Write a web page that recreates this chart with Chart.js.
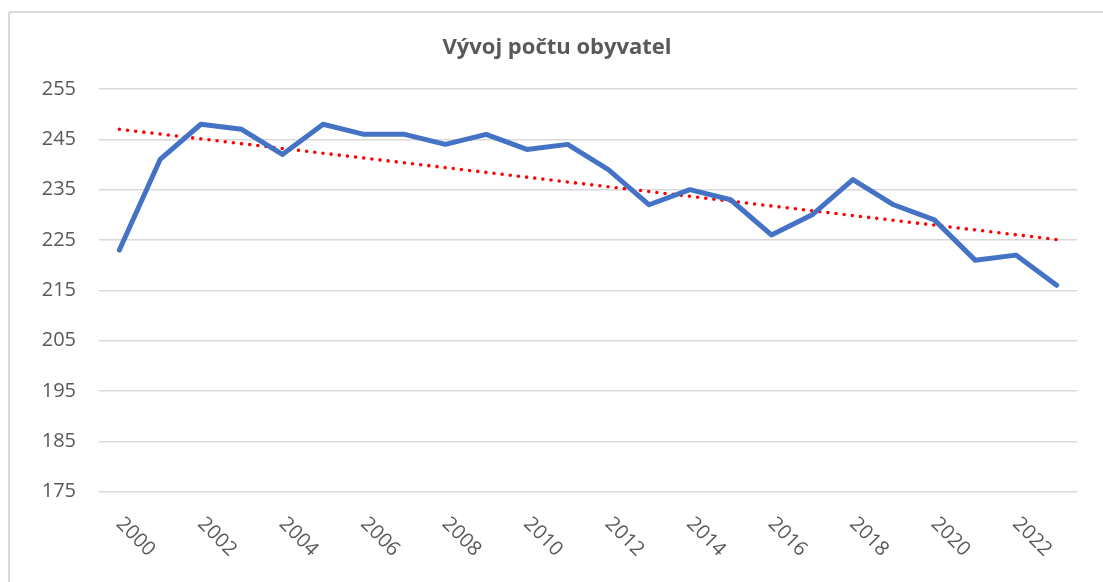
<!DOCTYPE html>
<html>
<head>
<meta charset="utf-8">
<script src="https://cdn.jsdelivr.net/npm/chart.js@4/dist/chart.umd.min.js"></script>
<style>
    html, body { margin: 0; padding: 0; background: #fff; overflow: hidden; }
    #wrap { position: relative; width: 1103px; height: 582px; }
    #frame {
        position: absolute; left: 8px; top: 11px; width: 1200px; height: 700px;
        border: 2px solid #d9d9d9; border-radius: 3px; box-sizing: border-box;
    }
    #chart { position: absolute; left: 0; top: 0; }
</style>
</head>
<body>
<div id="wrap">
    <div id="frame"></div>
    <canvas id="chart" width="1103" height="582"></canvas>
</div>
<script>
const years = ['2000', '2001', '2002', '2003', '2004', '2005', '2006', '2007', '2008', '2009', '2010', '2011',
               '2012', '2013', '2014', '2015', '2016', '2017', '2018', '2019', '2020', '2021', '2022', '2023'];
const population = [223, 241, 248, 247, 242, 248, 246, 246, 244, 246, 243, 244,
                    239, 232, 235, 233, 226, 230, 237, 232, 229, 221, 222, 216];
// trend line endpoints
const trend = [247.0, null, null, null, null, null, null, null, null, null, null, null,
               null, null, null, null, null, null, null, null, null, null, null, 225.1];
const xTickLabels = ['2000', '', '2002', '', '2004', '', '2006', '', '2008', '', '2010', '',
                     '2012', '', '2014', '', '2016', '', '2018', '', '2020', '', '2022', ''];
const chartTitle = 'Vývoj počtu obyvatel';

const textColor = '#595959';
const gridColor = '#d9d9d9';

// x labels are slanted downwards to the right, which Chart.js ticks can't do
const slantedLabels = {
    id: 'slantedLabels',
    afterDraw(chart) {
        const ctx = chart.ctx;
        const xScale = chart.scales.x;
        ctx.save();
        ctx.font = '20px "Open Sans"';
        ctx.fillStyle = textColor;
        ctx.textAlign = 'left';
        ctx.textBaseline = 'middle';
        xTickLabels.forEach((label, i) => {
            if (!label) return;
            const x = xScale.getPixelForValue(i);
            ctx.save();
            ctx.translate(x, chart.chartArea.bottom + 29);
            ctx.rotate(Math.PI / 4);
            ctx.fillText(label, 0, 0);
            ctx.restore();
        });
        ctx.restore();
    }
};

const ctx = document.getElementById('chart').getContext('2d');
new Chart(ctx, {
    type: 'line',
    data: {
        labels: years,
        datasets: [{
            label: 'Počet obyvatel',
            data: population,
            borderColor: '#4472C4',
            borderWidth: 5,
            borderJoinStyle: 'round',
            borderCapStyle: 'round',
            pointRadius: 0,
            tension: 0
        }, {
            label: 'Trend',
            data: trend,
            borderColor: '#ff0000',
            borderWidth: 3.6,
            borderDash: [0, 8.2],
            borderCapStyle: 'round',
            pointRadius: 0,
            spanGaps: true
        }]
    },
    options: {
        responsive: false,
        animation: false,
        layout: { padding: { left: 37, right: 26, top: 0, bottom: 0 } },
        plugins: {
            legend: { display: false },
            tooltip: { enabled: false },
            title: {
                display: true,
                text: chartTitle,
                color: textColor,
                font: { family: 'Open Sans', size: 22, weight: 'bold', lineHeight: 1.2 },
                padding: { top: 35, bottom: 27.6 }
            }
        },
        scales: {
            x: {
                offset: true,
                grid: { display: false },
                border: { display: false },
                ticks: { display: false },
                afterFit: scale => { scale.height = 90.3; }
            },
            y: {
                min: 175,
                max: 255,
                ticks: {
                    stepSize: 10,
                    color: textColor,
                    padding: 23,
                    font: { family: 'Open Sans', size: 20 }
                },
                grid: { color: gridColor, lineWidth: 1.5, drawTicks: false },
                border: { display: false },
                afterFit: scale => { scale.width = 62; }
            }
        }
    },
    plugins: [slantedLabels]
});
</script>
</body>
</html>
